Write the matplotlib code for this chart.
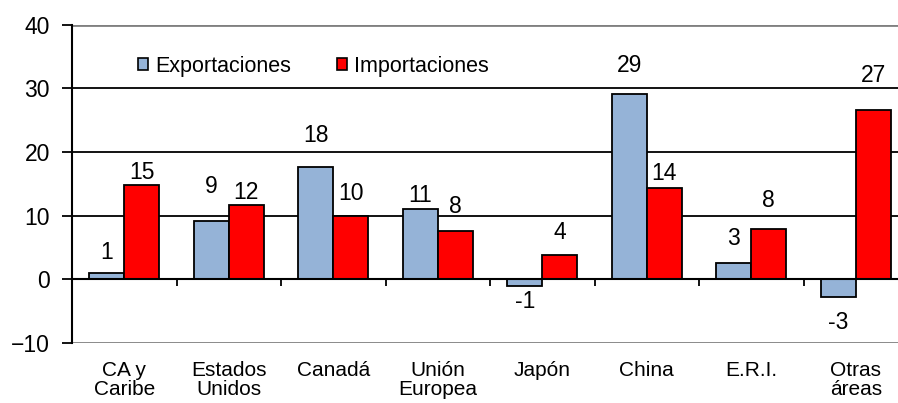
import matplotlib
matplotlib.use("Agg")
import matplotlib.pyplot as plt
import numpy as np
from matplotlib.patches import Patch
import matplotlib.transforms as mtransforms

plt.rcParams['font.family'] = ['Liberation Sans', 'DejaVu Sans']

categories = ["CA y\nCaribe", "Estados\nUnidos", "Canadá", "Unión\nEuropea",
              "Japón", "China", "E.R.I.", "Otras\náreas"]
exportaciones = [0.9, 9.1, 17.6, 11.0, -1.1, 29.2, 2.5, -2.8]
importaciones = [14.8, 11.6, 10.0, 7.5, 3.75, 14.4, 7.8, 26.6]
export_labels = ["1", "9", "18", "11", "-1", "29", "3", "-3"]
import_labels = ["15", "12", "10", "8", "4", "14", "8", "27"]
# label vertical positions (data units), as placed in the original
export_label_y = [4.1, 14.6, 22.6, 13.15, -3.6, 33.6, 6.4, -6.85]
import_label_y = [16.8, 13.7, 13.5, 11.35, 7.3, 16.6, 12.4, 32.0]

fig = plt.figure(figsize=(8.98, 4.03), dpi=100)
ax = fig.add_axes([0.0802, 0.150, 0.931, 0.788])

x = np.arange(len(categories))
w = 0.335
blue = "#95B3D7"
red = "#FF0000"

ax.set_xlim(-0.5, len(categories) - 0.5)
ax.set_ylim(-10, 40)

# gridlines
for yv in [10, 20, 30]:
    ax.axhline(yv, color="black", lw=1.3, zorder=1)
for yv in [40, -10]:
    ax.axhline(yv, color="#808080", lw=2.0, zorder=1)

ax.bar(x - w / 2, exportaciones, w, color=blue, edgecolor="black", lw=1.3, zorder=3)
ax.bar(x + w / 2, importaciones, w, color=red, edgecolor="black", lw=1.3, zorder=3)

fs_data = 16.5
for i in range(len(categories)):
    ax.text(x[i] - w / 2, export_label_y[i], export_labels[i], ha="center", va="center",
            fontsize=fs_data, zorder=4)
    ax.text(x[i] + w / 2, import_label_y[i], import_labels[i], ha="center", va="center",
            fontsize=fs_data, zorder=4)

# spines
for s in ["top", "right"]:
    ax.spines[s].set_visible(False)
ax.spines["left"].set_color("black")
ax.spines["left"].set_linewidth(1.5)
ax.spines["bottom"].set_position(("data", 0))
ax.spines["bottom"].set_linewidth(1.5)
ax.spines["bottom"].set_zorder(5)

ax.set_yticks([-10, 0, 10, 20, 30, 40])
ax.tick_params(axis="y", direction="out", length=7, width=1.3, labelsize=16.5, pad=9)
ax.set_xticks(np.arange(len(categories) - 1) + 0.5)
ax.set_xticklabels([])
ax.tick_params(axis="x", direction="out", length=5, width=1.3)

trans = mtransforms.blended_transform_factory(ax.transData, ax.transAxes)
for i, c in enumerate(categories):
    ax.text(x[i], -0.058, c, ha="center", va="top", fontsize=15, transform=trans,
            linespacing=0.98, clip_on=False)

handles = [Patch(facecolor=blue, edgecolor="black", lw=1.2, label="Exportaciones"),
           Patch(facecolor=red, edgecolor="black", lw=1.2, label="Importaciones")]
ax.legend(handles=handles, loc="center left", bbox_to_anchor=(0.079, 0.869), ncol=2,
          frameon=False, fontsize=15.5, handlelength=0.48, handleheight=0.48,
          handletextpad=0.33, columnspacing=2.1, borderaxespad=0, borderpad=0)

fig.savefig("out.png", dpi=100)
